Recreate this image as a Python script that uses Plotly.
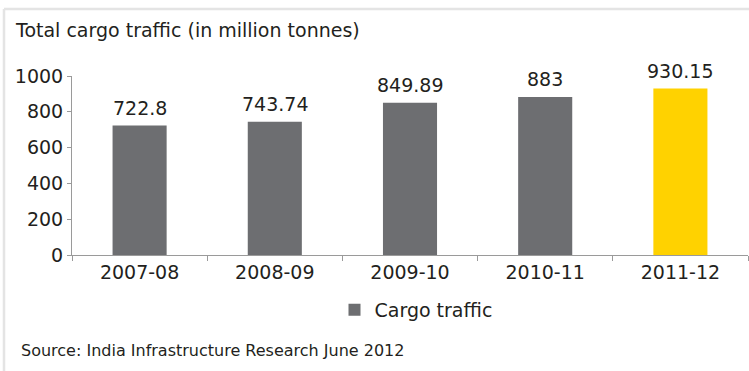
import plotly.graph_objects as go

categories = ["2007-08", "2008-09", "2009-10", "2010-11", "2011-12"]
cargo_traffic = [722.8, 743.74, 849.89, 883, 930.15]
value_labels = ["722.8", "743.74", "849.89", "883", "930.15"]
y_ticks = [0, 200, 400, 600, 800, 1000]

GRAY = "#6d6e71"
YELLOW = "#ffd200"
TXT = "#231f20"
AXIS = "#9a9a9a"
FONT = "DejaVu Sans"

W, H = 749, 371
L, R, T, B = 72, 1, 76, 116
pw, ph = W - L - R, H - T - B

def px_x(x):
    return (x - L) / pw

def px_y(y):
    return (H - B - y) / ph

bar_colors = [GRAY] * (len(categories) - 1) + [YELLOW]

fig = go.Figure()
fig.add_trace(go.Bar(
    x=categories, y=cargo_traffic, name="Cargo traffic",
    marker=dict(color=bar_colors, line=dict(width=0)),
    width=0.4, showlegend=True,
))

for c, v, lab in zip(categories, cargo_traffic, value_labels):
    fig.add_annotation(x=c, y=v, text=lab, xref="x", yref="y", showarrow=False,
                       xanchor="center", yanchor="bottom", yshift=5,
                       font=dict(family=FONT, size=19, color=TXT))

fig.update_layout(
    width=W, height=H,
    margin=dict(l=L, r=R, t=T, b=B, pad=0),
    paper_bgcolor="white", plot_bgcolor="white",
    font=dict(family=FONT, color=TXT),
    showlegend=True,
    legend=dict(orientation="h", x=px_x(416), xanchor="center", y=px_y(310), yanchor="middle",
                font=dict(family=FONT, size=19, color=TXT), bgcolor="rgba(0,0,0,0)"),
    xaxis=dict(type="category", showline=True, linecolor=AXIS, linewidth=1, ticks="outside",
               ticklen=5, tickcolor=AXIS, tickson="boundaries",
               tickfont=dict(family=FONT, size=19, color=TXT), showgrid=False),
    yaxis=dict(range=[0, 1000], tickvals=y_ticks, showline=True, linecolor=AXIS,
               linewidth=1, ticks="outside", ticklen=4, tickcolor=AXIS,
               tickfont=dict(family=FONT, size=19, color=TXT), showgrid=False,
               zeroline=False),
)

fig.add_annotation(text="Total cargo traffic (in million tonnes)", xref="paper", yref="paper",
                   x=px_x(13), y=px_y(30), xanchor="left", yanchor="middle", showarrow=False,
                   font=dict(family=FONT, size=19, color=TXT))
fig.add_annotation(text="Source: India Infrastructure Research June 2012", xref="paper", yref="paper",
                   x=px_x(19), y=px_y(350), xanchor="left", yanchor="middle", showarrow=False,
                   font=dict(family=FONT, size=16, color=TXT))

border = dict(color="#e4e4e4", width=2.5)
fig.add_shape(type="line", xref="paper", yref="paper", x0=px_x(4), x1=px_x(749),
              y0=px_y(9), y1=px_y(9), line=border)
fig.add_shape(type="line", xref="paper", yref="paper", x0=px_x(4), x1=px_x(4),
              y0=px_y(9), y1=px_y(371), line=border)

fig.write_html("out.html", config={"displayModeBar": False},
               post_script="document.body.style.margin='0';document.body.style.overflow='hidden';")
